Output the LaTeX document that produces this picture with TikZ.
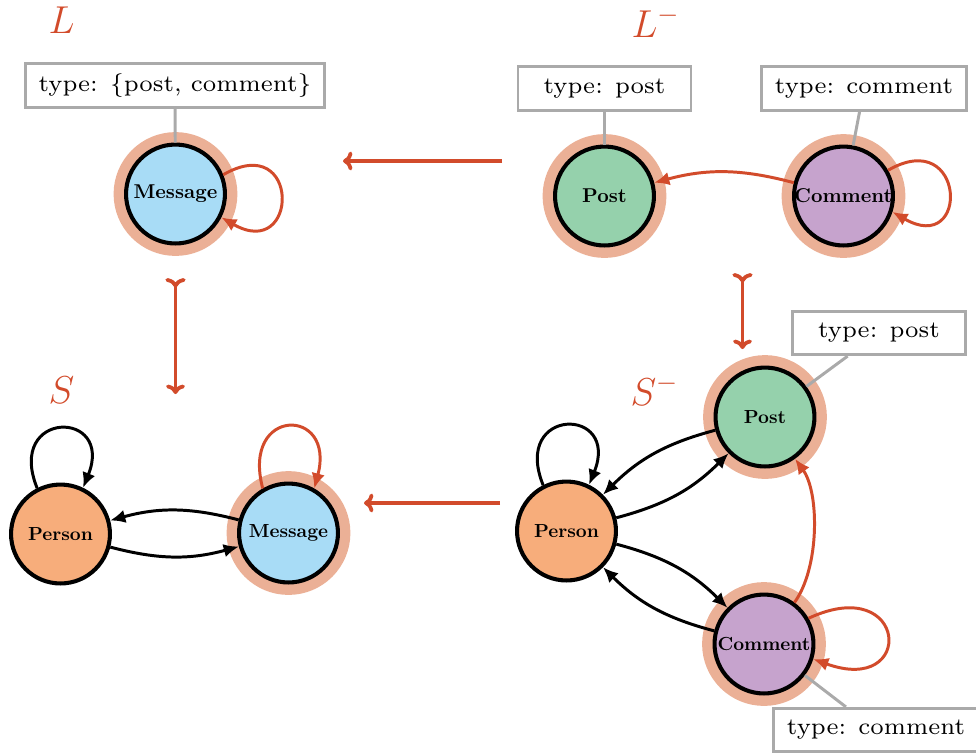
\documentclass[tikz,border=0pt]{standalone}
\usetikzlibrary{arrows.meta}
\definecolor{redc}{HTML}{D24B2B}
\definecolor{haloc}{HTML}{EBB096}
\definecolor{msgc}{HTML}{A8DCF6}
\definecolor{postc}{HTML}{95D1AC}
\definecolor{comc}{HTML}{C6A3CD}
\definecolor{perc}{HTML}{F7AD7B}
\definecolor{grayc}{HTML}{AAAAAA}
\newcommand{\tytext}[1]{\scalebox{1.25}{\fontsize{7}{8}\selectfont #1}}
\newcommand{\vtext}[1]{\scalebox{0.7}{\fontsize{10}{12}\selectfont\bfseries #1}}
\newcommand{\vtextb}[1]{\scalebox{0.74}{\fontsize{10}{12}\selectfont\bfseries #1}}
\begin{document}
\begin{tikzpicture}[x=0.37pt,y=0.37pt,
  vert/.style={circle,draw=black,line width=1.5pt,minimum size=36.6pt,inner sep=0pt},
  halo/.style={preaction={draw=haloc,line width=9.2pt}},
  tbox/.style={draw=grayc,line width=1.1pt,fill=white,minimum height=16pt,inner xsep=5pt},
  tline/.style={draw=grayc,line width=1.1pt},
  edg/.style={line width=1.1pt,-{Latex[length=5.6pt,width=5pt]}},
  redg/.style={edg,draw=redc},
  morph/.style={draw=redc,line width=1.4pt,-{To[length=3.5pt,width=7pt]}},
  mono/.style={draw=redc,line width=1.4pt,{To[length=3.5pt,width=7.5pt,reversed]}-{To[length=3.5pt,width=7pt]}},
  lbl/.style={text=redc,font=\Large,inner sep=0pt,anchor=base west}
]
\useasboundingbox (0,0) rectangle (976,-753);

% labels
\node[lbl] (lL) at (48,-33) {$L$};
\node[lbl] (lLm) at (631,-37) {$L^-$};
\node[lbl] (lS) at (48,-403) {$S$};
\node[lbl] (lSm) at (630,-405) {$S^-$};

% nodes
\node[vert,halo,fill=msgc] (m1) at (175.5,-194) {\vtextb{Message}};
\node[vert,halo,fill=postc] (p1) at (604.5,-196) {\vtextb{Post}};
\node[vert,halo,fill=comc] (c1) at (843.5,-196) {\vtextb{Comment}};
\node[vert,fill=perc] (pe2) at (60.5,-534) {\vtext{Person}};
\node[vert,halo,fill=msgc] (m2) at (288.5,-533) {\vtext{Message}};
\node[vert,halo,fill=postc] (p3) at (765,-417) {\vtext{Post}};
\node[vert,fill=perc] (pe3) at (566.5,-531) {\vtext{Person}};
\node[vert,halo,fill=comc] (c3) at (764,-644) {\vtext{Comment}};

% type boxes
\node[tbox] (b1) at (175,-85.5) {\tytext{type: \{post, comment\}}};
\node[tbox,minimum width=64pt] (b2) at (604.5,-88.5) {\tytext{type: post}};
\node[tbox] (b3) at (864,-88.5) {\tytext{type: comment}};
\node[tbox,minimum width=64pt] (b4) at (879,-333) {\tytext{type: post}};
\node[tbox] (b5) at (876,-730) {\tytext{type: comment}};

\draw[tline] (b1) -- (m1);
\draw[tline] (b2) -- (p1);
\draw[tline] (b3) -- (c1);
\draw[tline] (b4) -- (p3);
\draw[tline] (b5) -- (c3);

% L
\draw[redg] (m1.22) .. controls +(30:90) and +(-30:90) .. (m1.-27);
% L-
\draw[redg] (c1) to[bend right=15] (p1);
\draw[redg] (c1.30) .. controls +(30:90) and +(-30:90) .. (c1.-18);
% S
\draw[edg] (pe2.117) .. controls +(112:85) and +(68:85) .. (pe2.64);
\draw[redg] (m2.120) .. controls +(105:85) and +(75:85) .. (m2.60);
\draw[edg] (m2) to[bend right=15] (pe2);
\draw[edg] (pe2) to[bend right=15] (m2);
% S-
\draw[edg] (pe3.117) .. controls +(112:85) and +(68:85) .. (pe3.64);
\draw[edg] (p3) to[bend right=15] (pe3);
\draw[edg] (pe3) to[bend right=15] (p3);
\draw[edg] (pe3) to[bend left=15] (c3);
\draw[edg] (c3) to[bend left=15] (pe3);
\draw[redg] (c3) to[bend right=36,looseness=0.75] (p3);
\draw[redg] (c3.30) .. controls +(25:110) and +(-20:110) .. (c3.-17);

% morphisms
\coordinate (h1s) at (502,-161);
\coordinate (h1e) at (343,-161);
\coordinate (h2s) at (500,-503);
\coordinate (h2e) at (364,-503);
\coordinate (v1s) at (175.5,-278);
\coordinate (v1e) at (175.5,-394);
\coordinate (v2s) at (742.5,-273);
\coordinate (v2e) at (742.5,-349);
\draw[morph] (h1s) -- (h1e);
\draw[morph] (h2s) -- (h2e);
\draw[mono] (v1s) -- (v1e);
\draw[mono] (v2s) -- (v2e);
\end{tikzpicture}
\end{document}
